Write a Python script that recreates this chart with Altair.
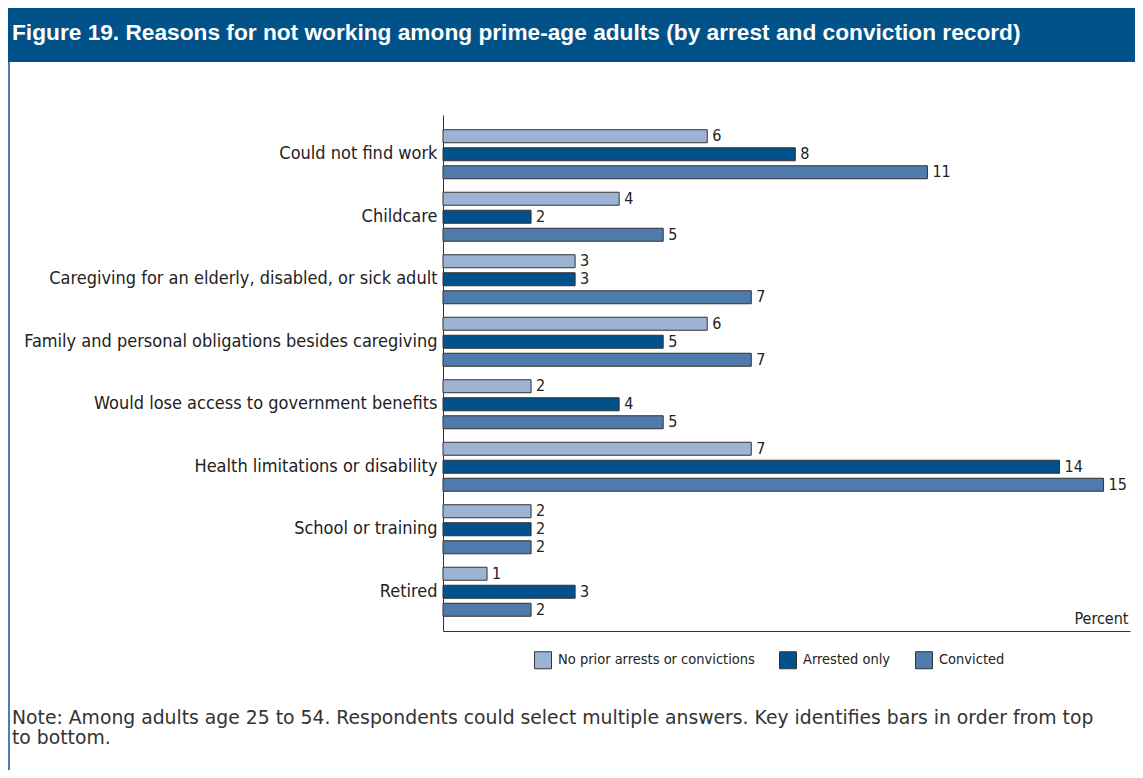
import altair as alt
import pandas as pd

categories = [
    "Could not find work",
    "Childcare",
    "Caregiving for an elderly, disabled, or sick adult",
    "Family and personal obligations besides caregiving",
    "Would lose access to government benefits",
    "Health limitations or disability",
    "School or training",
    "Retired",
]
series_names = ["No prior arrests or convictions", "Arrested only", "Convicted"]
no_prior = [6, 4, 3, 6, 2, 7, 2, 1]
arrested = [8, 2, 3, 5, 4, 14, 2, 3]
convicted = [11, 5, 7, 7, 5, 15, 2, 2]
series_colors = ["#9cb3d4", "#02518a", "#4e7bab"]

title_text = "Figure 19. Reasons for not working among prime-age adults (by arrest and conviction record)"
note_lines = [
    "Note: Among adults age 25 to 54. Respondents could select multiple answers. Key identifies bars in order from top",
    "to bottom.",
]

rows = []
for s, vals in zip(series_names, [no_prior, arrested, convicted]):
    for c, v in zip(categories, vals):
        rows.append({"reason": c, "series": s, "value": v})
df = pd.DataFrame(rows)

COND = "Liberation Sans Narrow, DejaVu Sans Condensed, Roboto Condensed, Arial Narrow, Liberation Sans, sans-serif"
NOTE_FONT = "DejaVu Sans, Verdana, sans-serif"
W, H = 687, 516
PAD_L, PAD_T, PAD_R, PAD_B = 435, 107, 5, 139

y_enc = alt.Y(
    "reason:N",
    sort=categories,
    scale=alt.Scale(paddingInner=0, paddingOuter=0.128),
    axis=alt.Axis(
        title=None, ticks=False, labelPadding=6, labelFontSize=18, labelFont=COND,
        labelColor="#222222", labelLimit=600, domainColor="#333333", domainWidth=1,
    ),
)
yoff_enc = alt.YOffset(
    "series:N", sort=series_names, scale=alt.Scale(paddingInner=0, paddingOuter=0.236)
)
x_enc = alt.X(
    "value:Q",
    scale=alt.Scale(domain=[0, 15.6], nice=False),
    axis=alt.Axis(
        labels=False, ticks=False, grid=False, domainColor="#333333", domainWidth=1,
        title="Percent", titleAnchor="end", titleAlign="right", titleX=W - 2, titleY=-5,
        titleBaseline="bottom", titleFontWeight="normal", titleFontSize=16, titleFont=COND,
        titleColor="#222222",
    ),
)

bars = alt.Chart(df).mark_bar(size=13, stroke="#333333", strokeWidth=1).encode(
    x=x_enc,
    y=y_enc,
    yOffset=yoff_enc,
    color=alt.Color(
        "series:N",
        sort=series_names,
        scale=alt.Scale(domain=series_names, range=series_colors),
        legend=alt.Legend(
            title=None, orient="none", legendX=91, legendY=536, direction="horizontal",
            symbolType="square", symbolSize=289, symbolStrokeColor="#333333",
            symbolStrokeWidth=1, symbolOpacity=1, labelFontSize=14.5, labelFont=COND,
            labelColor="#222222", labelOffset=6, columnPadding=22, labelLimit=400,
        ),
    ),
)

labels = alt.Chart(df).mark_text(
    align="left", baseline="middle", dx=5, fontSize=16, font=COND, color="#222222"
).encode(
    x="value:Q",
    y=alt.Y("reason:N", sort=categories),
    yOffset=alt.YOffset("series:N", sort=series_names),
    text="value:Q",
)

one = pd.DataFrame({"k": [0]})
header = alt.Chart(one).mark_rect(color="#02528a").encode(
    x=alt.value(-PAD_L), x2=alt.value(W + PAD_R), y=alt.value(-PAD_T), y2=alt.value(-53)
)
header_text = alt.Chart(one).mark_text(
    align="left", baseline="alphabetic", fontSize=22.7, fontWeight="bold",
    font="Liberation Sans, Arial, sans-serif", color="white",
).encode(x=alt.value(-431), y=alt.value(-75), text=alt.value(title_text))
border = alt.Chart(one).mark_rule(color="#4a7fb5", strokeWidth=2).encode(
    x=alt.value(-PAD_L + 1), y=alt.value(-53), y2=alt.value(H + PAD_B)
)
note = alt.Chart(one).mark_text(
    align="left", baseline="alphabetic", fontSize=18.8, font=NOTE_FONT, color="#333333",
    lineHeight=20,
).encode(x=alt.value(-431), y=alt.value(609), text=alt.value(note_lines))

chart = alt.layer(header, header_text, border, note, bars, labels).properties(
    width=W, height=H,
    autosize=alt.AutoSizeParams(type="none"),
    padding={"left": PAD_L, "top": PAD_T, "right": PAD_R, "bottom": PAD_B},
    background="white",
).configure_view(stroke=None)

chart.save("out.html", embed_options={"renderer": "svg", "actions": False})
